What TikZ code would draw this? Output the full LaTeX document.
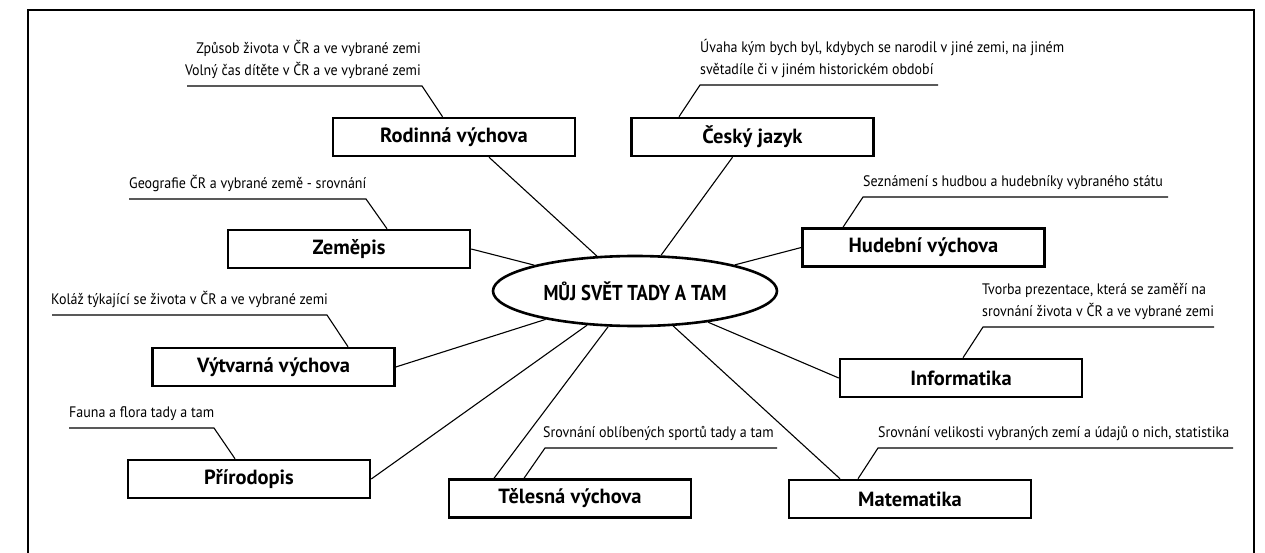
\documentclass[tikz,border=0pt]{standalone}
\usepackage{fontspec}
\setmainfont{PT Sans}
\newfontfamily\lblfont{PT Sans}[FakeStretch=0.92]
\newfontfamily\ellfont{PT Sans}[FakeStretch=0.87]
\usetikzlibrary{shapes.geometric}
\begin{document}
\begin{tikzpicture}[x=1pt,y=-1pt,
  box/.style={draw, line width=2.5pt, minimum width=242pt, minimum height=38pt, inner sep=0pt, font=\fontsize{20.5}{24}\selectfont\bfseries},
  lbl/.style={inner sep=0pt, font=\lblfont\fontsize{15.2}{22}\selectfont},
  conn/.style={line width=1.1pt},
  frame/.style={line width=2.2pt}]
\useasboundingbox (0,0) rectangle (1265,553);
% frame
\coordinate (f1) at (28,553); \coordinate (f2) at (28,10);
\coordinate (f3) at (1254,10); \coordinate (f4) at (1254,553);
\draw[frame] (f1) -- (f2) -- (f3) -- (f4);
% centre
\node[draw, ellipse, line width=2.6pt, minimum width=284pt, minimum height=70pt, inner sep=0pt,
      font=\ellfont\fontsize{21.5}{24}\selectfont\bfseries] (c) at (635,291) {MŮJ SVĚT TADY A TAM};
% boxes
\node[box] (rod) at (454,137) {Rodinná výchova};
\node[box] (cj)  at (752.5,137) {Český jazyk};
\node[box] (zem) at (349,249) {Zeměpis};
\node[box] (hud) at (923.5,247.5) {Hudební výchova};
\node[box] (vyt) at (273.5,367) {Výtvarná výchova};
\node[box] (inf) at (961,378) {Informatika};
\node[box] (pri) at (249,479) {Přírodopis};
\node[box] (tel) at (570,498.5) {Tělesná výchova};
\node[box] (mat) at (910,499) {Matematika};
% connectors to centre
\draw[conn] ([xshift=35pt]rod.south) -- (c);
\draw[conn] ([xshift=-20pt]cj.south) -- (c);
\draw[conn] (zem.east) -- (c);
\draw[conn] (hud.west) -- (c);
\draw[conn] (vyt.east) -- (c);
\draw[conn] (pri.east) -- (c);
\draw[conn] ([xshift=-76pt]tel.north) -- (c);
\draw[conn] (inf.west) -- (c);
\draw[conn] ([xshift=-70pt]mat.north) -- (c);
% labels
\node[lbl, anchor=south east, align=right] (rodl) at (421,79) {Způsob života v ČR a ve vybrané zemi\\Volný čas dítěte v ČR a ve vybrané zemi};
\coordinate (rod1) at (187,86); \coordinate (rod2) at (422,86);
\draw[conn] (rod1) -- (rod2) -- ([xshift=-11.5pt]rod.north);

\node[lbl, anchor=south west, align=left] (cjl) at (700,78) {Úvaha kým bych byl, kdybych se narodil v jiné zemi, na jiném\\světadíle či v jiném historickém období};
\coordinate (cj1) at (938,85); \coordinate (cj2) at (700,85);
\draw[conn] (cj1) -- (cj2) -- ([xshift=-73.5pt]cj.north);

\node[lbl, anchor=south west] (zeml) at (129,192) {Geografie ČR a vybrané země - srovnání};
\coordinate (zem1) at (129,199); \coordinate (zem2) at (366,199);
\draw[conn] (zem1) -- (zem2) -- ([xshift=38pt]zem.north);

\node[lbl, anchor=south west] (hudl) at (863,190) {Seznámení s hudbou a hudebníky vybraného státu};
\coordinate (hud1) at (1168,197); \coordinate (hud2) at (863,197);
\draw[conn] (hud1) -- (hud2) -- ([xshift=-80.5pt]hud.north);

\node[lbl, anchor=south west] (vytl) at (51,308) {Koláž týkající se života v ČR a ve vybrané zemi};
\coordinate (vyt1) at (52,315); \coordinate (vyt2) at (327,315);
\draw[conn] (vyt1) -- (vyt2) -- ([xshift=74.5pt]vyt.north);

\node[lbl, anchor=south west] (pril) at (69,421) {Fauna a flora tady a tam};
\coordinate (pri1) at (69,428); \coordinate (pri2) at (214,428);
\draw[conn] (pri1) -- (pri2) -- ([xshift=-14pt]pri.north);

\node[lbl, anchor=south west] (tell) at (543,441) {Srovnání oblíbených sportů tady a tam};
\coordinate (tel1) at (777,448); \coordinate (tel2) at (545,448);
\draw[conn] (tel1) -- (tel2) -- ([xshift=-46pt]tel.north);

\node[lbl, anchor=south west, align=left] (infl) at (982,320) {Tvorba prezentace, která se zaměří na\\srovnání života v ČR a ve vybrané zemi};
\coordinate (inf1) at (1214,327); \coordinate (inf2) at (983,327);
\draw[conn] (inf1) -- (inf2) -- ([xshift=2pt]inf.north);

\node[lbl, anchor=south west] (matl) at (878,441) {Srovnání velikosti vybraných zemí a údajů o nich, statistika};
\coordinate (mat1) at (1233,448); \coordinate (mat2) at (878,448);
\draw[conn] (mat1) -- (mat2) -- ([xshift=-52pt]mat.north);
\end{tikzpicture}
\end{document}
